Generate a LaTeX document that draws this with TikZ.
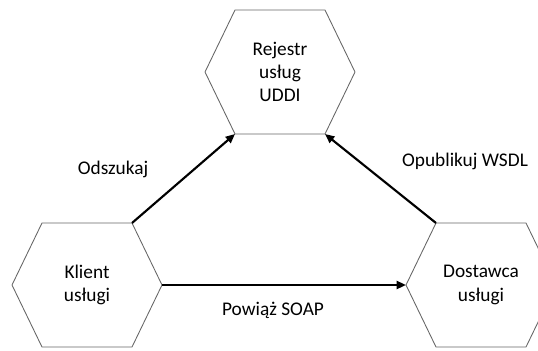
\documentclass[tikz,border=0pt]{standalone}
\usepackage{fontspec}
\setmainfont{Carlito}
\usetikzlibrary{arrows.meta}
\begin{document}
\begin{tikzpicture}[x=0.75pt,y=-0.75pt,
  hexa/.style={draw=black!60, line width=0.65pt},
  lbl/.style={font=\fontsize{14.5}{17.5}\selectfont, align=center, text=black},
  link/.style={line width=1.6pt, -{Triangle[length=7pt,width=6pt]}}]
\useasboundingbox (0,0) rectangle (538,350);

% registry hexagon
\begin{scope}[shift={(280,72)}]
  \draw[hexa] (-75,0) coordinate (r-w) -- (-45,-62) coordinate (r-nw)
    -- (45,-62) coordinate (r-ne) -- (75,0) coordinate (r-e)
    -- (45,62) coordinate (r-se) -- (-45,62) coordinate (r-sw) -- cycle;
  \node[lbl] (r) at (0,0) {Rejestr\\usług\\UDDI};
\end{scope}

% client hexagon
\begin{scope}[shift={(87,285)}]
  \draw[hexa] (-75,0) coordinate (k-w) -- (-45,-62) coordinate (k-nw)
    -- (45,-62) coordinate (k-ne) -- (75,0) coordinate (k-e)
    -- (45,62) coordinate (k-se) -- (-45,62) coordinate (k-sw) -- cycle;
  \node[lbl] (k) at (0,0) {Klient\\usługi};
\end{scope}

% provider hexagon
\begin{scope}[shift={(481,285)}]
  \draw[hexa] (-75,0) coordinate (d-w) -- (-45,-62) coordinate (d-nw)
    -- (45,-62) coordinate (d-ne) -- (75,0) coordinate (d-e)
    -- (45,62) coordinate (d-se) -- (-45,62) coordinate (d-sw) -- cycle;
  \node[lbl] (d) at (0,0) {Dostawca\\usługi};
\end{scope}

% connectors
\draw[link] (k-ne) -- (r-sw);
\draw[link] (d-nw) -- (r-se);
\draw[link] (k-e) -- (d-w);

% connector labels
\node[lbl] (find) at (113,169) {Odszukaj};
\node[lbl] (pub) at (465,161) {Opublikuj WSDL};
\node[lbl] (bind) at (273,310) {Powiąż SOAP};
\end{tikzpicture}
\end{document}
